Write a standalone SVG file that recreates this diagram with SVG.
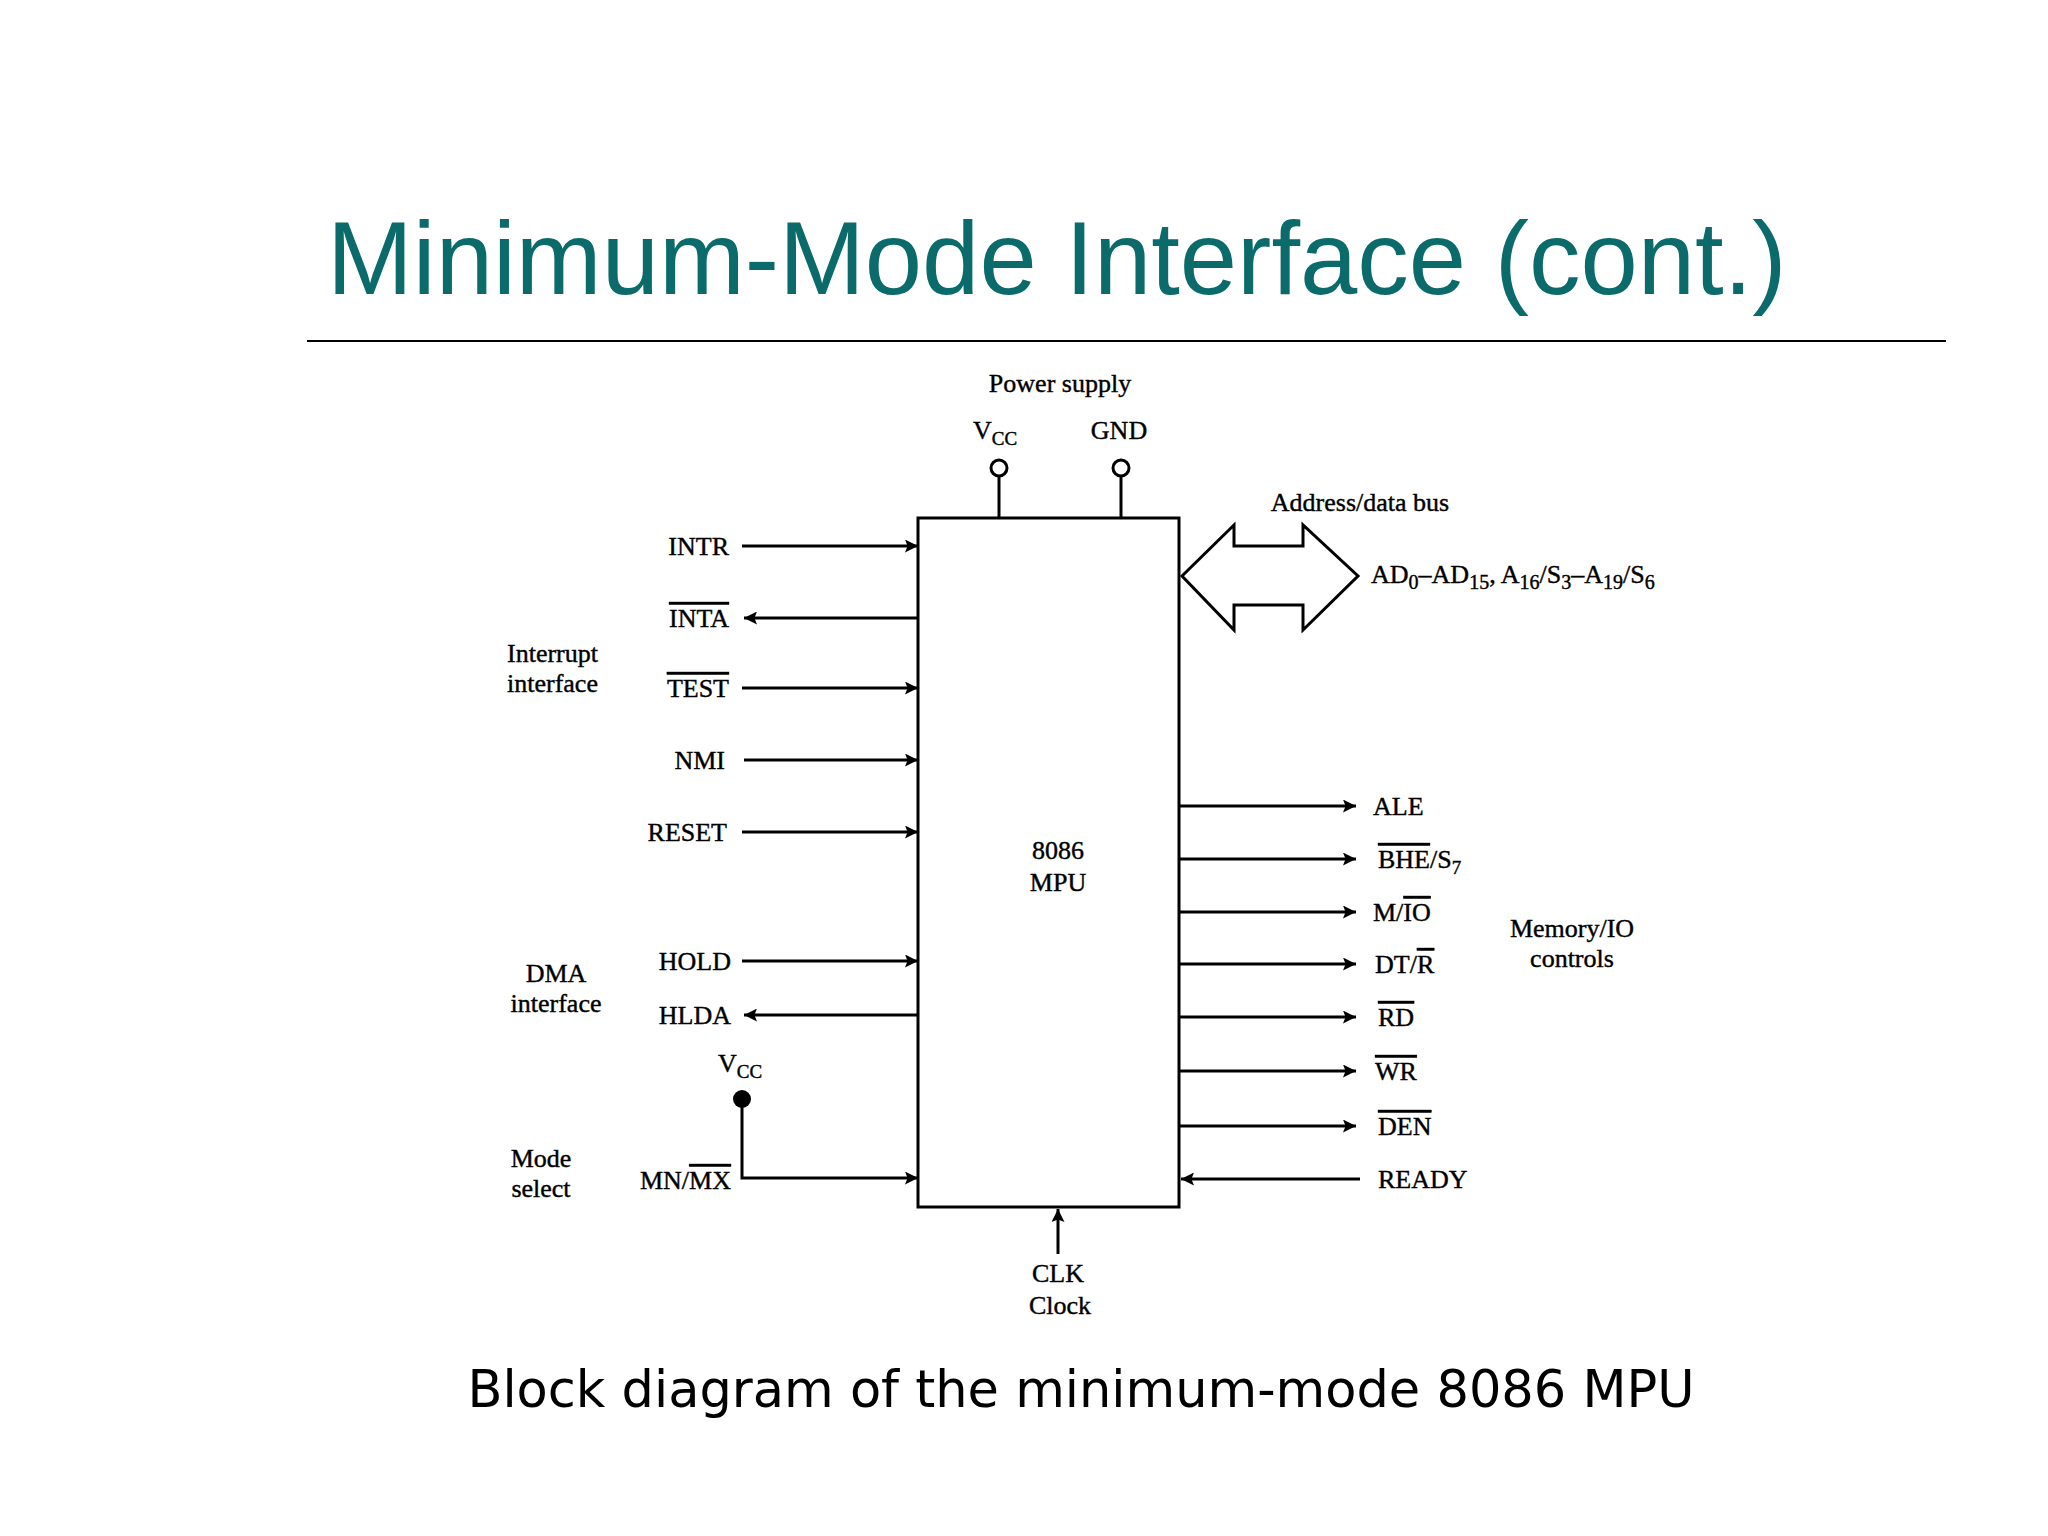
<svg xmlns="http://www.w3.org/2000/svg" width="2048" height="1536" viewBox="0 0 2048 1536">
<defs>
<marker id="ah2" viewBox="0 0 10 10" refX="10" refY="5" markerWidth="26" markerHeight="13" orient="auto" markerUnits="userSpaceOnUse"><path d="M0,0 L10,5 L0,10 L2,5 z" fill="#000"/></marker>
</defs>
<style>
.t{font-family:"Liberation Serif",serif;font-size:26px;fill:#000;stroke:#000;stroke-width:0.4}
.e{text-anchor:end}.m{text-anchor:middle}
.ol{text-decoration:overline}
.w{stroke:#000;stroke-width:3;fill:none}
.c{stroke:#000;stroke-width:3;fill:none;marker-end:url(#ah2)}
</style>
<rect width="2048" height="1536" fill="#fff"/>
<text x="327" y="294" font-family="Liberation Sans,Arial,sans-serif" font-size="103" fill="#0b6b6b">Minimum-Mode Interface (cont.)</text>
<line x1="307" y1="341" x2="1946" y2="341" stroke="#000" stroke-width="2"/>
<g id="mpu"><rect x="918" y="518" width="261" height="689" class="w"/>
<text class="t m" x="1058" y="859">8086</text><text class="t m" x="1058" y="891">MPU</text></g>
<g id="power">
<text class="t m" x="1060" y="392">Power supply</text>
<text class="t m" x="995" y="439">V<tspan font-size="19" dy="6">CC</tspan></text>
<text class="t m" x="1119" y="439">GND</text>
<circle cx="999" cy="468" r="8" class="w"/><circle cx="1121" cy="468" r="8" class="w"/>
<line x1="999" y1="476" x2="999" y2="518" class="w"/><line x1="1121" y1="476" x2="1121" y2="518" class="w"/>
</g>
<g id="bus">
<path d="M1182,576 L1234,525 L1234,546 L1303,546 L1303,525 L1358,576 L1303,630 L1303,605 L1234,605 L1234,630 Z" class="w"/>
<text class="t m" x="1360" y="511">Address/data bus</text>
<text class="t" x="1371" y="583" font-size="27">AD<tspan font-size="20" dy="6">0</tspan><tspan dy="-6">–AD</tspan><tspan font-size="20" dy="6">15</tspan><tspan dy="-6">, A</tspan><tspan font-size="20" dy="6">16</tspan><tspan dy="-6">/S</tspan><tspan font-size="20" dy="6">3</tspan><tspan dy="-6">–A</tspan><tspan font-size="20" dy="6">19</tspan><tspan dy="-6">/S</tspan><tspan font-size="20" dy="6">6</tspan></text>
</g>
<g id="leftlabels">
<text class="t" x="507" y="662">Interrupt</text><text class="t" x="507" y="692">interface</text>
<text class="t m" x="556" y="982">DMA</text><text class="t m" x="556" y="1012">interface</text>
<text class="t m" x="541" y="1167">Mode</text><text class="t m" x="541" y="1197">select</text>
<text class="t e" x="729" y="555">INTR</text>
<text class="t e" x="729" y="627"><tspan class="ol">INTA</tspan></text>
<text class="t e" x="729" y="697"><tspan class="ol">TEST</tspan></text>
<text class="t e" x="725" y="769">NMI</text>
<text class="t e" x="727" y="841">RESET</text>
<text class="t e" x="731" y="970">HOLD</text>
<text class="t e" x="731" y="1024">HLDA</text>
<text class="t m" x="740" y="1072">V<tspan font-size="19" dy="6">CC</tspan></text>
<circle cx="742" cy="1099" r="9" fill="#000"/>
<text class="t e" x="731" y="1189">MN/<tspan class="ol">MX</tspan></text>
</g>
<g id="rightlabels">
<text class="t" x="1373" y="815">ALE</text>
<text class="t" x="1378" y="868"><tspan class="ol">BHE</tspan>/S<tspan font-size="19" dy="6">7</tspan></text>
<text class="t" x="1373" y="921">M/<tspan class="ol">IO</tspan></text>
<text class="t" x="1375" y="973">DT/<tspan class="ol">R</tspan></text>
<text class="t" x="1378" y="1026"><tspan class="ol">RD</tspan></text>
<text class="t" x="1375" y="1080"><tspan class="ol">WR</tspan></text>
<text class="t" x="1378" y="1135"><tspan class="ol">DEN</tspan></text>
<text class="t" x="1378" y="1188">READY</text>
<text class="t m" x="1572" y="937">Memory/IO</text><text class="t m" x="1572" y="967">controls</text>
<text class="t m" x="1058" y="1282">CLK</text><text class="t m" x="1060" y="1314">Clock</text>
</g>
<g id="connectors">
<line class="c" x1="742" y1="546" x2="918" y2="546"/>
<line class="c" x1="918" y1="618" x2="744" y2="618"/>
<line class="c" x1="742" y1="688" x2="918" y2="688"/>
<line class="c" x1="744" y1="760" x2="918" y2="760"/>
<line class="c" x1="742" y1="832" x2="918" y2="832"/>
<line class="c" x1="742" y1="961" x2="918" y2="961"/>
<line class="c" x1="918" y1="1015" x2="744" y2="1015"/>
<path class="c" d="M742,1099 L742,1178 L918,1178"/>
<line class="c" x1="1179" y1="806" x2="1356" y2="806"/>
<line class="c" x1="1179" y1="859" x2="1356" y2="859"/>
<line class="c" x1="1179" y1="912" x2="1356" y2="912"/>
<line class="c" x1="1179" y1="964" x2="1356" y2="964"/>
<line class="c" x1="1179" y1="1017" x2="1356" y2="1017"/>
<line class="c" x1="1179" y1="1071" x2="1356" y2="1071"/>
<line class="c" x1="1179" y1="1126" x2="1356" y2="1126"/>
<line class="c" x1="1360" y1="1179" x2="1181" y2="1179"/>
<line class="c" x1="1058" y1="1254" x2="1058" y2="1209"/>
</g>
<text x="1081" y="1407" text-anchor="middle" font-family="DejaVu Sans,sans-serif" font-size="51" fill="#000">Block diagram of the minimum-mode 8086 MPU</text>
</svg>
